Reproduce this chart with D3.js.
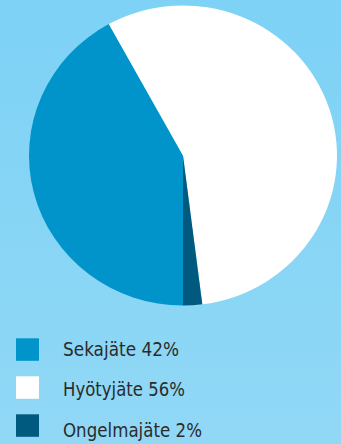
<!DOCTYPE html>
<html>
<head>
<meta charset="utf-8">
<script src="https://cdn.jsdelivr.net/npm/d3@7"></script>
<style>
  html, body { margin: 0; padding: 0; }
  body { width: 341px; height: 444px; overflow: hidden; }
</style>
</head>
<body>
<div id="chart"></div>
<script>
// waste shares (%)
const categories = ['Sekajäte', 'Hyötyjäte', 'Ongelmajäte'];
const values = [42, 56, 2];
const colors = ['#0194cb', '#ffffff', '#005a80'];
const labels = ['Sekajäte 42%', 'Hyötyjäte 56%', 'Ongelmajäte 2%'];
const labelWidths = [116, 122, 139];

const width = 341, height = 444;

const svg = d3.select('#chart')
  .append('svg')
  .attr('width', width)
  .attr('height', height);

const grad = svg.append('defs').append('linearGradient')
  .attr('id', 'bg').attr('x1', 0).attr('y1', 0).attr('x2', 0).attr('y2', 1);
grad.append('stop').attr('offset', 0).attr('stop-color', '#7dd2f5');
grad.append('stop').attr('offset', 1).attr('stop-color', '#91d8f6');

svg.append('rect')
  .attr('width', width)
  .attr('height', height)
  .attr('fill', 'url(#bg)');

const data = categories.map((c, i) => ({ name: c, value: values[i], color: colors[i] }));

// starts at 6 o'clock, goes clockwise
const pie = d3.pie().sort(null).value(d => d.value)
  .startAngle(Math.PI).endAngle(3 * Math.PI);

const r = 154;
const arc = d3.arc().innerRadius(0).outerRadius(r);

// the original pie is slightly squashed vertically
const g = svg.append('g')
  .attr('transform', `translate(183,155.5) scale(1,${150 / 154})`);

g.selectAll('path')
  .data(pie(data))
  .join('path')
  .attr('d', arc)
  .attr('fill', d => d.data.color);

// legend
const ySwatch = d3.scalePoint().domain(categories).range([338.3, 414.3]);
const yText = d3.scalePoint().domain(categories).range([356, 436.5]);

const legend = svg.append('g');

legend.selectAll('rect')
  .data(data)
  .join('rect')
  .attr('x', 16)
  .attr('y', d => ySwatch(d.name))
  .attr('width', 23)
  .attr('height', 22.5)
  .attr('fill', d => d.color);

legend.selectAll('text')
  .data(data)
  .join('text')
  .attr('x', 63)
  .attr('y', d => yText(d.name))
  .attr('font-family', 'DejaVu Sans')
  .attr('font-size', 19)
  .attr('fill', '#2b2b2b')
  .attr('textLength', (d, i) => labelWidths[i])
  .attr('lengthAdjust', 'spacingAndGlyphs')
  .text((d, i) => labels[i]);
</script>
</body>
</html>
